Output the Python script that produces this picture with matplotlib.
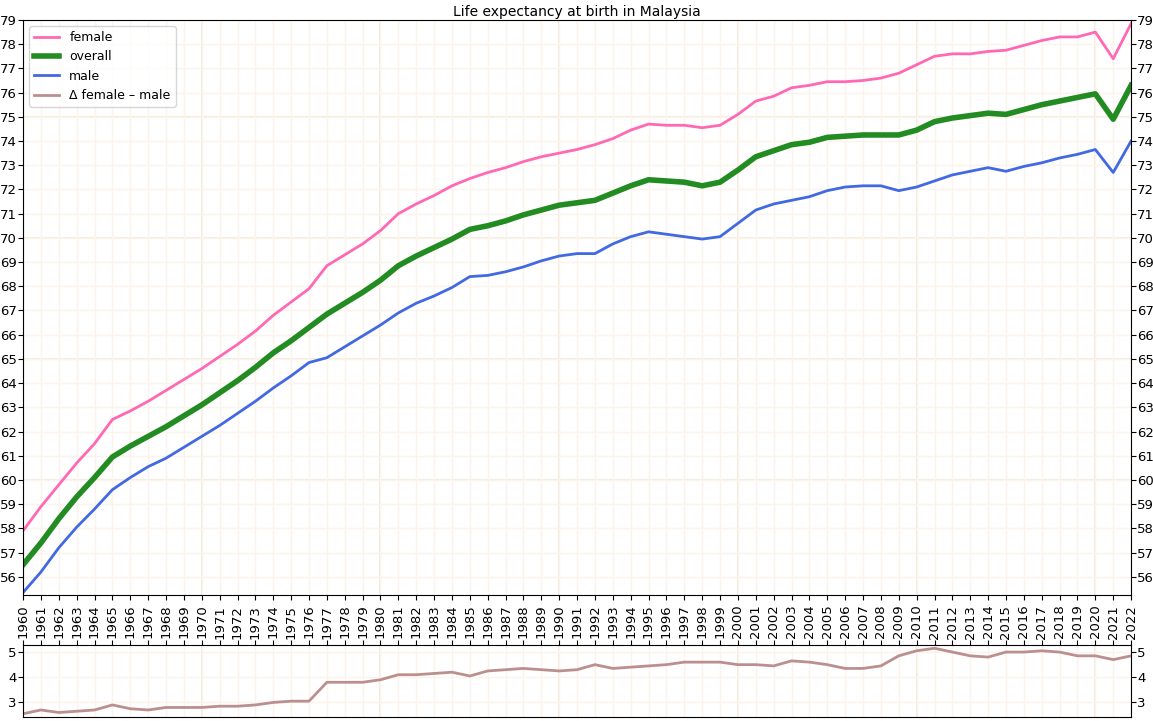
import matplotlib
matplotlib.use("Agg")
import matplotlib.pyplot as plt
from matplotlib.ticker import MultipleLocator

years = list(range(1960, 2023))

female = [57.9, 58.9, 59.8, 60.7, 61.5, 62.5, 62.85, 63.25, 63.7, 64.15,
          64.6, 65.1, 65.6, 66.15, 66.8, 67.35, 67.9, 68.85, 69.3, 69.75,
          70.3, 71.0, 71.4, 71.75, 72.15, 72.45, 72.7, 72.9, 73.15, 73.35,
          73.5, 73.65, 73.85, 74.1, 74.45, 74.7, 74.65, 74.65, 74.55, 74.65,
          75.1, 75.65, 75.85, 76.2, 76.3, 76.45, 76.45, 76.5, 76.6, 76.8,
          77.15, 77.5, 77.6, 77.6, 77.7, 77.75, 77.95, 78.15, 78.3, 78.3,
          78.5, 77.4, 78.85]

male = [55.35, 56.2, 57.2, 58.05, 58.8, 59.6, 60.1, 60.55, 60.9, 61.35,
        61.8, 62.25, 62.75, 63.25, 63.8, 64.3, 64.85, 65.05, 65.5, 65.95,
        66.4, 66.9, 67.3, 67.6, 67.95, 68.4, 68.45, 68.6, 68.8, 69.05,
        69.25, 69.35, 69.35, 69.75, 70.05, 70.25, 70.15, 70.05, 69.95, 70.05,
        70.6, 71.15, 71.4, 71.55, 71.7, 71.95, 72.1, 72.15, 72.15, 71.95,
        72.1, 72.35, 72.6, 72.75, 72.9, 72.75, 72.95, 73.1, 73.3, 73.45,
        73.65, 72.7, 74.0]

overall = [56.5, 57.4, 58.4, 59.3, 60.1, 60.95, 61.4, 61.8, 62.2, 62.65,
           63.1, 63.6, 64.1, 64.65, 65.25, 65.75, 66.3, 66.85, 67.3, 67.75,
           68.25, 68.85, 69.25, 69.6, 69.95, 70.35, 70.5, 70.7, 70.95, 71.15,
           71.35, 71.45, 71.55, 71.85, 72.15, 72.4, 72.35, 72.3, 72.15, 72.3,
           72.8, 73.35, 73.6, 73.85, 73.95, 74.15, 74.2, 74.25, 74.25, 74.25,
           74.45, 74.8, 74.95, 75.05, 75.15, 75.1, 75.3, 75.5, 75.65, 75.8,
           75.95, 74.9, 76.3]

delta = [f - m for f, m in zip(female, male)]

fig = plt.figure(figsize=(11.53, 7.21), dpi=100)
ax = fig.add_axes([0.02, 0.1748, 0.961, 0.7975])
ax2 = fig.add_axes([0.02, 0.0055, 0.961, 0.0999], sharex=ax)

l_f, = ax.plot(years, female, color="hotpink", lw=2, label="female")
l_o, = ax.plot(years, overall, color="forestgreen", lw=4, label="overall")
l_m, = ax.plot(years, male, color="royalblue", lw=2, label="male")
l_d, = ax2.plot(years, delta, color="rosybrown", lw=2, label="Δ female – male")

ax.set_xlim(1960, 2022)
ax.set_ylim(55.25, 79)
ax.set_title("Life expectancy at birth in Malaysia", fontsize=10, pad=3)
ax.set_xticks(years)
ax.set_xticklabels([str(y) for y in years], rotation=90, fontsize=9.5)
ax.set_yticks(range(56, 80))
ax.tick_params(axis="y", right=True, labelright=True, labelsize=9.5, pad=1)
ax.legend(handles=[l_f, l_o, l_m, l_d], loc="upper left", fontsize=9)

ax2.set_yticks([3, 4, 5])
ax2.tick_params(axis="y", right=True, labelright=True, labelsize=9.5, pad=1)
ax2.tick_params(axis="x", top=True, bottom=False, labelbottom=False, labeltop=False)

# light grid every year / unit, stronger every 10 years and every 5 units
ax.grid(True, which="major", color="#fcf4ea", lw=1)
ax2.grid(True, which="major", color="#fcf4ea", lw=1)
ax.set_axisbelow(True)
ax2.set_axisbelow(True)
for y0 in range(1960, 2023, 10):
    ax.axvline(y0, color="#f0ebe5", lw=1.5, zorder=0)
    ax2.axvline(y0, color="#f0ebe5", lw=1.5, zorder=0)
for y0 in (60, 65, 70, 75):
    ax.axhline(y0, color="#f3ece3", lw=1.5, zorder=0)

fig.savefig("out.png", dpi=100)
